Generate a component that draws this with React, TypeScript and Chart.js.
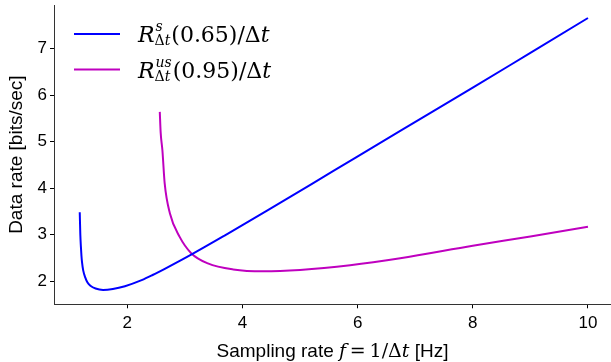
import React, { useEffect, useRef } from 'react';
import { Chart, registerables } from 'chart.js';

Chart.register(...registerables);

// Sampling rate f (Hz) and data rate (bits/sec) for each curve
const blueF = [1.175, 1.185, 1.195, 1.205, 1.215, 1.235, 1.27, 1.31, 1.36, 1.45, 1.58, 1.75, 1.96, 2.25, 2.44, 2.66, 3.11, 3.69, 4.42, 5.58, 6.74, 8.0, 9.0, 10.0];
const blueRate = [3.48, 3.0, 2.74, 2.54, 2.4, 2.23, 2.08, 1.97, 1.9, 1.84, 1.81, 1.83, 1.89, 2.02, 2.13, 2.27, 2.57, 2.98, 3.51, 4.37, 5.23, 6.16, 6.91, 7.66];

const magF = [2.565, 2.58, 2.61, 2.65, 2.74, 2.91, 3.11, 3.4, 3.84, 4.36, 5.0, 5.87, 6.74, 8.0, 9.0, 10.0];
const magRate = [5.64, 5.2, 4.82, 4.1, 3.46, 2.95, 2.6, 2.38, 2.25, 2.21, 2.24, 2.34, 2.49, 2.76, 2.96, 3.17];

const seriesColors = ['#0000ff', '#bf00bf'];
const legendSup = ['s', 'us'];
const legendArg = ['0.65', '0.95'];

const xTicks = [2, 4, 6, 8, 10];
const yTicks = [2, 3, 4, 5, 6, 7];

const yTitle = 'Data rate [bits/sec]';
// [text, style]: sans = plain, rm = math upright, it = math italic
const xTitleParts: [string, string][] = [
  ['Sampling rate ', 'sans'],
  ['f', 'it'],
  ['\u2009=\u2009', 'rm'],
  ['1/\u0394', 'rm'],
  ['t', 'it'],
  [' [Hz]', 'sans'],
];

const SANS = '"Liberation Sans", Arial, sans-serif';
const SERIF = '"DejaVu Serif", serif';

const mathLegend = {
  id: 'mathLegend',
  afterDraw(chart: any) {
    const ctx = chart.ctx as CanvasRenderingContext2D;
    chart.data.datasets.forEach((ds: any, i: number) => {
      const y = 34 + i * 35.5;
      ctx.save();
      ctx.strokeStyle = ds.borderColor;
      ctx.lineWidth = 2;
      ctx.beginPath();
      ctx.moveTo(74, y);
      ctx.lineTo(120, y);
      ctx.stroke();
      ctx.fillStyle = '#000';
      ctx.textAlign = 'left';
      ctx.textBaseline = 'alphabetic';
      const big = 22;
      const small = 14;
      const base = y + 8;
      let x = 138;
      ctx.font = `italic ${big}px ${SERIF}`;
      ctx.fillText('R', x, base);
      x += ctx.measureText('R').width;
      ctx.font = `italic ${small}px ${SERIF}`;
      const sup = legendSup[i];
      ctx.fillText(sup, x + 1, base - 11);
      const wSup = ctx.measureText(sup).width + 1;
      ctx.font = `${small}px ${SERIF}`;
      ctx.fillText('\u0394', x, base + 3);
      const wD = ctx.measureText('\u0394').width;
      ctx.font = `italic ${small}px ${SERIF}`;
      ctx.fillText('t', x + wD, base + 3);
      const wSub = wD + ctx.measureText('t').width;
      x += Math.max(wSup, wSub) + 1;
      ctx.font = `${big}px ${SERIF}`;
      const s = `(${legendArg[i]})/\u0394`;
      ctx.fillText(s, x, base);
      x += ctx.measureText(s).width;
      ctx.font = `italic ${big}px ${SERIF}`;
      ctx.fillText('t', x, base);
      ctx.restore();
    });
  },
};

const xTitlePlugin = {
  id: 'xTitlePlugin',
  afterDraw(chart: any) {
    const ctx = chart.ctx as CanvasRenderingContext2D;
    const area = chart.chartArea;
    const fontFor = (st: string) =>
      st === 'sans' ? `19px ${SANS}` : st === 'it' ? `italic 19px ${SERIF}` : `19px ${SERIF}`;
    ctx.save();
    ctx.fillStyle = '#000';
    ctx.textBaseline = 'alphabetic';
    ctx.textAlign = 'left';
    let total = 0;
    const widths = xTitleParts.map(([t, st]) => {
      ctx.font = fontFor(st);
      const w = ctx.measureText(t).width;
      total += w;
      return w;
    });
    let x = (area.left + area.right) / 2 - total / 2;
    const base = 357;
    xTitleParts.forEach(([t, st], i) => {
      ctx.font = fontFor(st);
      ctx.fillText(t, x, base);
      x += widths[i];
    });
    ctx.restore();
  },
};

export default function App() {
  const ref = useRef<HTMLCanvasElement | null>(null);
  useEffect(() => {
    if (!ref.current) return;
    const chart = new Chart(ref.current, {
      type: 'line',
      data: {
        datasets: [
          {
            label: 'R^s(0.65)/Δt',
            data: blueF.map((f, i) => ({ x: f, y: blueRate[i] })),
            borderColor: seriesColors[0],
            borderWidth: 2,
            pointRadius: 0,
            cubicInterpolationMode: 'monotone',
            fill: false,
          },
          {
            label: 'R^us(0.95)/Δt',
            data: magF.map((f, i) => ({ x: f, y: magRate[i] })),
            borderColor: seriesColors[1],
            borderWidth: 2,
            pointRadius: 0,
            cubicInterpolationMode: 'monotone',
            fill: false,
          },
        ],
      },
      options: {
        animation: false,
        responsive: false,
        maintainAspectRatio: false,
        devicePixelRatio: 1,
        layout: { padding: { left: 0, right: 0, top: 5, bottom: 0 } },
        plugins: { legend: { display: false }, tooltip: { enabled: false } },
        scales: {
          x: {
            type: 'linear',
            min: 0.728,
            max: 10.4,
            afterBuildTicks: (s: any) => {
              s.ticks = xTicks.map((v) => ({ value: v }));
            },
            afterFit: (s: any) => {
              s.height = 57.7;
              s.paddingLeft = 0;
              s.paddingRight = 0;
            },
            grid: { display: true, drawOnChartArea: false, drawTicks: true, tickLength: 4, color: '#000', lineWidth: 1 },
            border: { display: true, color: '#333', width: 1 },
            ticks: {
              font: { family: SANS, size: 17 },
              color: '#000',
              padding: 5,
              maxRotation: 0,
              autoSkip: false,
            },
          },
          y: {
            type: 'linear',
            min: 1.5,
            max: 7.94,
            afterBuildTicks: (s: any) => {
              s.ticks = yTicks.map((v) => ({ value: v }));
            },
            afterFit: (s: any) => {
              s.width = 54;
              s.paddingTop = 0;
              s.paddingBottom = 0;
            },
            grid: { display: true, drawOnChartArea: false, drawTicks: true, tickLength: 4, color: '#000', lineWidth: 1 },
            border: { display: true, color: '#333', width: 1 },
            ticks: {
              font: { family: SANS, size: 17 },
              color: '#000',
              padding: 3,
              autoSkip: false,
            },
            title: {
              display: true,
              text: yTitle,
              font: { family: SANS, size: 19 },
              color: '#000',
              padding: { top: 5, bottom: 0 },
            },
          },
        },
      },
      plugins: [mathLegend, xTitlePlugin],
    } as any);
    return () => chart.destroy();
  }, []);
  return (
    <div style={{ position: 'absolute', left: 0, top: 0, width: 611, height: 362, background: '#fff' }}>
      <canvas ref={ref} width={611} height={362} />
    </div>
  );
}
